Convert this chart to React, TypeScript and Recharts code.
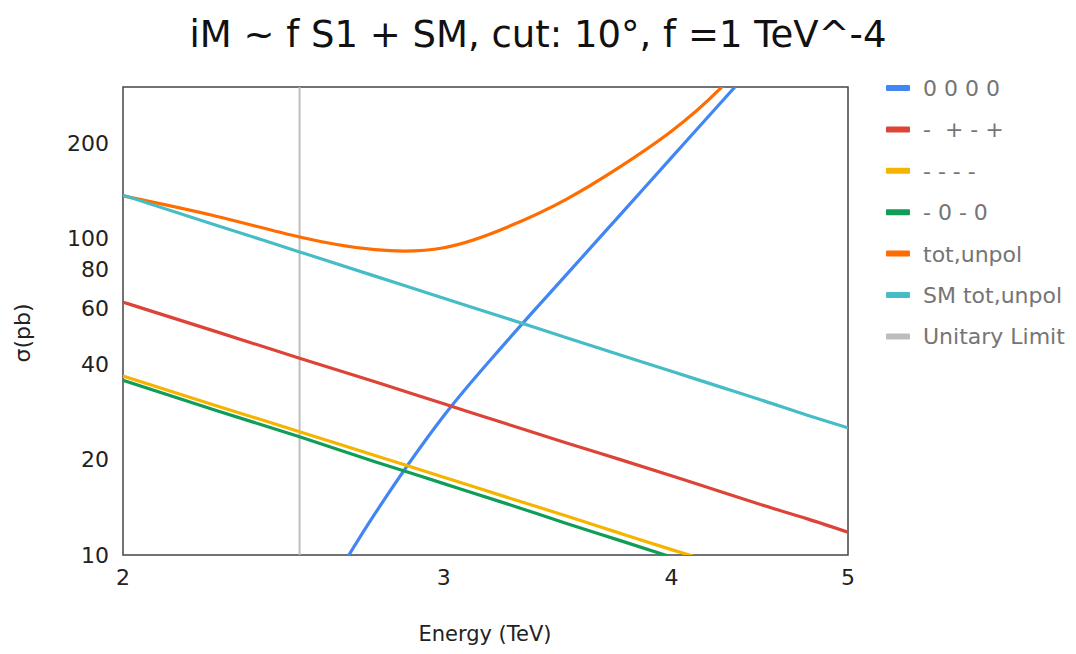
import {
  LineChart,
  Line,
  XAxis,
  YAxis,
  ReferenceLine,
  ReferenceArea,
} from "recharts";

// energies in TeV
const energy = [2, 2.25, 2.5, 2.75, 3, 3.25, 3.5, 3.75, 4, 4.25, 4.5, 4.75, 5];

// cross sections in pb
const s0000 = [null, null, 5.5, 13.5, 27.5, 47.4, 76.3, 118.7, 179.5, 264.7, 381.6, 540, 751];
const sPMPM = [62.8, 50.7, 41.8, 35.2, 30.0, 25.9, 22.6, 20.0, 17.8, 15.9, 14.3, 13.0, 11.8];
const sMMMM = [36.7, 29.6, 24.5, 20.6, 17.6, 15.2, 13.3, 11.7, 10.4, 9.35, 8.43, 7.64, 6.96];
const sM0M0 = [35.6, 28.6, 23.6, 19.7, 16.8, 14.5, 12.6, 11.1, 9.85, 8.8, 7.91, 7.16, 6.51];
const totUnpol = [136, 117.3, 100.9, 92.0, 93.3, 108.3, 132.4, 168.2, 217.5, 294.7, 418, 567, 776];
const smTotUnpol = [136.7, 109.9, 90.5, 75.9, 64.6, 55.8, 48.6, 42.8, 38.0, 34.0, 30.6, 27.6, 25.2];

const unitaryLimit = 2.5;

const xTicks = [2, 3, 4, 5];
const yTicks = [10, 20, 40, 60, 80, 100, 200];

const series = [
  { key: "s0000", name: "0 0 0 0", color: "#4285F4", curve: "monotone" },
  { key: "sPMPM", name: "-  + - +", color: "#DB4437", curve: "monotone" },
  { key: "sMMMM", name: "- - - -", color: "#F4B400", curve: "monotone" },
  { key: "sM0M0", name: "- 0 - 0", color: "#0F9D58", curve: "monotone" },
  { key: "tot", name: "tot,unpol", color: "#FF6D01", curve: "natural" },
  { key: "sm", name: "SM tot,unpol", color: "#46BDC6", curve: "monotone" },
];

const data = energy.map((e, i) => ({
  energy: e,
  s0000: s0000[i],
  sPMPM: sPMPM[i],
  sMMMM: sMMMM[i],
  sM0M0: sM0M0[i],
  tot: totUnpol[i],
  sm: smTotUnpol[i],
}));

const legendItems = [
  ...series.map((s) => ({ name: s.name, color: s.color })),
  { name: "Unitary Limit", color: "#BDBDBD" },
];

const font = "'DejaVu Sans', sans-serif";

export default function App() {
  return (
    <div
      style={{
        position: "absolute",
        left: 0,
        top: 0,
        width: 1076,
        height: 654,
        background: "#fff",
        fontFamily: font,
      }}
    >
      <LineChart
        width={1076}
        height={654}
        data={data}
        margin={{ top: 87, right: 228, bottom: 0, left: 0 }}
      >
        <XAxis
          dataKey="energy"
          type="number"
          scale="log"
          domain={[2, 5]}
          ticks={xTicks}
          interval={0}
          allowDataOverflow
          axisLine={false}
          tickLine={false}
          tickSize={0}
          tickMargin={14}
          height={99}
          tick={{ fontSize: 22, fill: "#222", fontFamily: font }}
        />
        <YAxis
          type="number"
          scale="log"
          domain={[10, 300]}
          ticks={yTicks}
          interval={0}
          allowDataOverflow
          axisLine={false}
          tickLine={false}
          tickSize={0}
          tickMargin={14}
          width={123}
          tick={{ fontSize: 22, fill: "#222", fontFamily: font }}
        />
        <ReferenceLine
          x={unitaryLimit}
          stroke="#BDBDBD"
          strokeWidth={2}
        />
        {series.map((s) => (
          <Line
            key={s.key}
            type={s.curve as "monotone" | "natural"}
            dataKey={s.key}
            name={s.name}
            stroke={s.color}
            strokeWidth={3.2}
            dot={false}
            activeDot={false}
            connectNulls={false}
            isAnimationActive={false}
          />
        ))}
        <ReferenceArea
          x1={2}
          x2={5}
          y1={10}
          y2={300}
          fill="none"
          fillOpacity={0}
          stroke="#444"
          strokeWidth={1.5}
        />
      </LineChart>

      <svg
        width={1076}
        height={654}
        style={{ position: "absolute", left: 0, top: 0, pointerEvents: "none" }}
      >
        <text
          x={538}
          y={47}
          textAnchor="middle"
          fontSize={37}
          fill="#111"
          fontFamily={font}
        >
          iM ~ f S1 + SM, cut: 10°, f =1 TeV^-4
        </text>
        <text
          x={485}
          y={641}
          textAnchor="middle"
          fontSize={21}
          fill="#222"
          fontFamily={font}
        >
          Energy (TeV)
        </text>
        <text
          x={30}
          y={333}
          textAnchor="middle"
          fontSize={22}
          fill="#222"
          fontFamily={font}
          transform="rotate(-90, 30, 333)"
        >
          σ(pb)
        </text>
        {legendItems.map((item, i) => {
          const cy = 88 + i * 41.4;
          return (
            <g key={item.name}>
              <rect x={886} y={cy - 3} width={24} height={6} rx={1} fill={item.color} />
              <text
                x={923}
                y={cy + 8}
                fontSize={22}
                fill="#757575"
                fontFamily={font}
                style={{ whiteSpace: "pre" }}
              >
                {item.name}
              </text>
            </g>
          );
        })}
      </svg>
    </div>
  );
}
